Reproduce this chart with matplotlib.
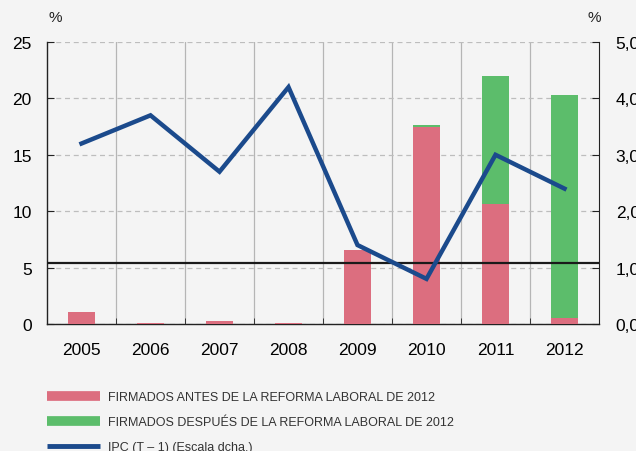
import numpy as np
import matplotlib.pyplot as plt
from matplotlib.lines import Line2D

plt.rcParams['font.family'] = ['Liberation Sans', 'DejaVu Sans']

# datos
anios = ['2005', '2006', '2007', '2008', '2009', '2010', '2011', '2012']
antes = [1.1, 0.05, 0.3, 0.05, 6.6, 17.5, 10.6, 0.5]
despues = [0.0, 0.0, 0.0, 0.0, 0.0, 0.15, 11.4, 19.8]
ipc = [3.2, 3.7, 2.7, 4.2, 1.4, 0.8, 3.0, 2.4]
referencia = 5.4

c_antes = '#dc6e7f'
c_despues = '#5cbd6b'
c_ipc = '#1b4a8c'
fondo = '#f4f4f4'

fig = plt.figure(figsize=(6.36, 4.52), dpi=100, facecolor=fondo)
ax = fig.add_axes([47/636, 1-325/452, 552/636, 282/452])
ax.set_facecolor(fondo)

x = np.arange(len(anios))
ax.bar(x, antes, width=0.4, color=c_antes, zorder=3)
ax.bar(x, despues, width=0.4, bottom=antes, color=c_despues, zorder=3)
ax.axhline(referencia, color='#1a1a1a', lw=1.6, zorder=4)

ax.set_xlim(-0.5, len(anios)-0.5)
ax.set_ylim(0, 25)
ax.set_yticks(range(0, 26, 5))
ax.set_xticks(x)
ax.set_xticklabels(anios)
ax.set_xticks(np.arange(0.5, len(anios)-0.5, 1), minor=True)
ax.tick_params(axis='x', which='major', length=0, pad=13, labelsize=12.5)
ax.tick_params(axis='x', which='minor', direction='in', length=4, color='#222222')
ax.tick_params(axis='y', direction='in', length=5, pad=11, labelsize=12.5, color='#222222')
ax.grid(axis='y', ls=(0, (4, 3)), color='#bdbdbd', lw=0.9, zorder=0)
ax.grid(axis='x', which='minor', color='#b5b5b5', lw=0.9, zorder=0)
ax.spines['top'].set_visible(False)
ax.spines['right'].set_visible(False)
for s in ['left', 'bottom']:
    ax.spines[s].set_color('#222222')
    ax.spines[s].set_linewidth(1.0)
ax.set_axisbelow(True)

ax2 = ax.twinx()
ax2.plot(x, ipc, color=c_ipc, lw=3.2, zorder=5, solid_joinstyle='miter')
ax2.set_ylim(0, 5)
ax2.set_yticks(range(0, 6))
ax2.set_yticklabels(['%d,0' % v for v in range(0, 6)])
ax2.tick_params(axis='y', direction='in', length=5, pad=12, labelsize=12.5, color='#222222')
for s in ['top', 'left', 'bottom']:
    ax2.spines[s].set_visible(False)
ax2.spines['right'].set_color('#222222')

fig.text(55/636, 1-18/452, '%', fontsize=11, ha='center', va='center', color='#222222')
fig.text(594/636, 1-18/452, '%', fontsize=11, ha='center', va='center', color='#222222')

handles = [Line2D([], [], color=c_antes, lw=7, solid_capstyle='butt'),
           Line2D([], [], color=c_despues, lw=7, solid_capstyle='butt'),
           Line2D([], [], color=c_ipc, lw=3.5, solid_capstyle='butt')]
etiquetas = ['FIRMADOS ANTES DE LA REFORMA LABORAL DE 2012',
             'FIRMADOS DESPUÉS DE LA REFORMA LABORAL DE 2012',
             'IPC (T – 1) (Escala dcha.)']
leg = fig.legend(handles, etiquetas, loc='upper left', bbox_to_anchor=(47/636, 1-392/452),
                 frameon=False, handlelength=4.2, handletextpad=0.65, labelspacing=1.05,
                 borderpad=0, borderaxespad=0, prop={'size': 9})
for t in leg.get_texts():
    t.set_color('#333333')

fig.savefig('out.png', dpi=100, facecolor=fondo)
